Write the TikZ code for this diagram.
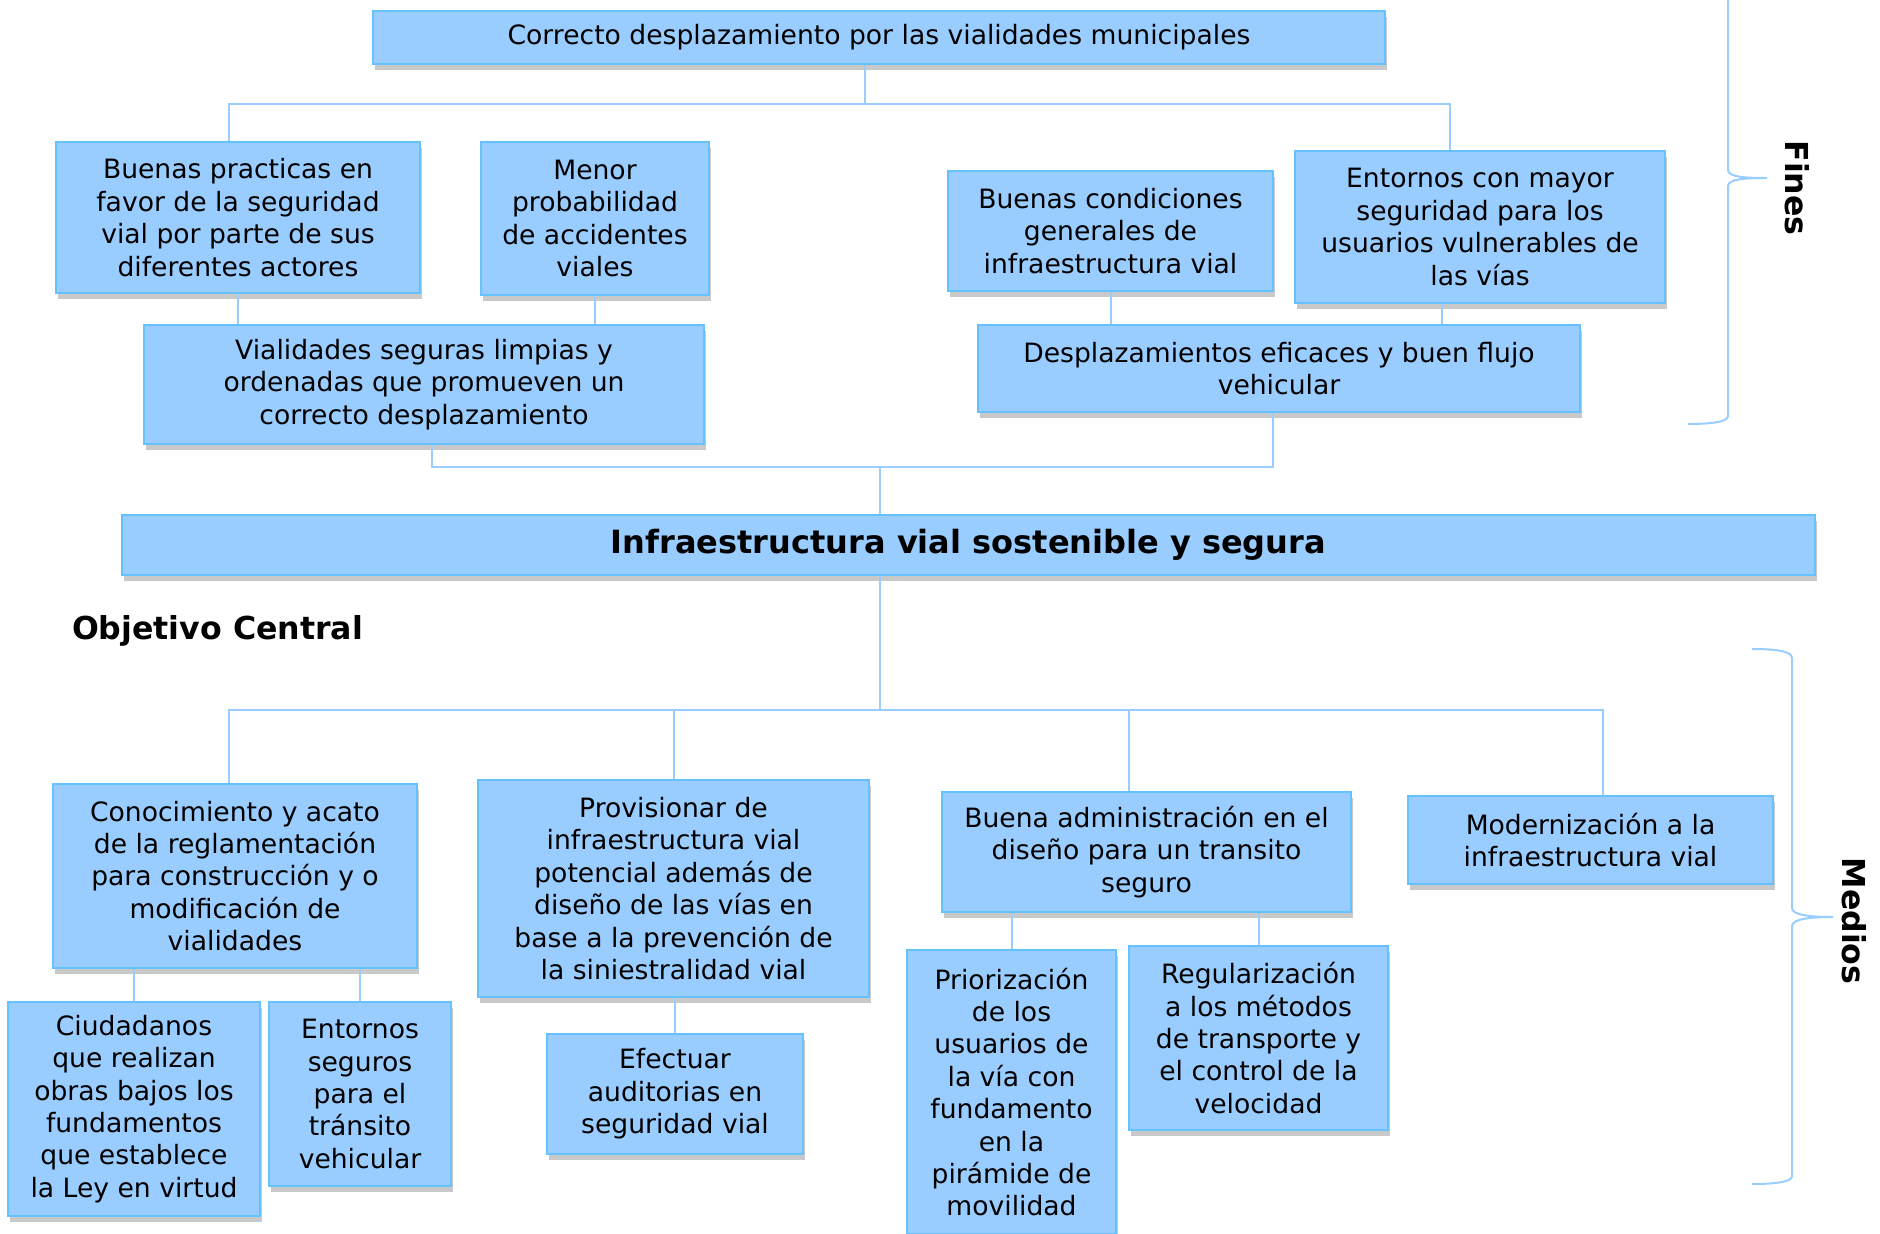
\documentclass[tikz,border=0pt]{standalone}
\usepackage{fontspec}
\setmainfont{DejaVu Sans}
\usetikzlibrary{shadows}

\definecolor{azulcaja}{HTML}{99CCFF}
\definecolor{bordecaja}{HTML}{66C2FF}
\definecolor{azullinea}{HTML}{99CCFF}

\tikzset{
  caja/.style={draw=bordecaja, line width=1pt, fill=azulcaja, align=center, inner sep=0pt,
    font=\fontsize{13.3}{16.2}\selectfont,
    drop shadow={shadow xshift=1pt, shadow yshift=-3pt, opacity=0.3, fill=black!70}},
  linea/.style={draw=azullinea, line width=1pt},
  llave/.style={draw=azullinea, line width=1pt},
  etiqueta/.style={font=\bfseries\fontsize{15.8}{18}\selectfont},
}

\begin{document}
\begin{tikzpicture}[x=0.5pt,y=-0.5pt]
\useasboundingbox (0,0) rectangle (1880,1233);
% fines
\node[caja, minimum width=506pt, minimum height=26.5pt] (fin0) at (879,37.5) {Correcto desplazamiento por las vialidades municipales};
\node[caja, minimum width=182pt, minimum height=75.5pt] (fin1) at (238,217.5) {Buenas practicas en\\favor de la seguridad\\vial por parte de sus\\diferentes actores};
\node[caja, minimum width=114pt, minimum height=76.5pt] (fin2) at (595,218.5) {Menor\\probabilidad\\de accidentes\\viales};
\node[caja, minimum width=162.5pt, minimum height=60pt] (fin3) at (1110.5,231) {Buenas condiciones\\generales de\\infraestructura vial};
\node[caja, minimum width=185pt, minimum height=76pt] (fin4) at (1480,227) {Entornos con mayor\\seguridad para los\\usuarios vulnerables de\\las vías};
\node[caja, minimum width=280pt, minimum height=59.5pt] (fin5) at (424,384.5) {Vialidades seguras limpias y\\ordenadas que promueven un\\correcto desplazamiento};
\node[caja, minimum width=301pt, minimum height=43.5pt] (fin6) at (1279,368.5) {Desplazamientos eficaces y buen flujo\\vehicular};
% objetivo central
\node[caja, minimum width=846.5pt, minimum height=30pt, font=\bfseries\fontsize{16}{18}\selectfont] (obj) at (968.5,545) {Infraestructura vial sostenible y segura};
\node[etiqueta] (objtxt) at (217.5,631) {Objetivo Central};
% medios
\node[caja, minimum width=182pt, minimum height=92pt] (med1) at (235,876) {Conocimiento y acato\\de la reglamentación\\para construcción y o\\modificación de\\vialidades};
\node[caja, minimum width=195.5pt, minimum height=108.5pt] (med2) at (673.5,888.5) {Provisionar de\\infraestructura vial\\potencial además de\\diseño de las vías en\\base a la prevención de\\la siniestralidad vial};
\node[caja, minimum width=204.5pt, minimum height=60pt] (med3) at (1146.5,852) {Buena administración en el\\diseño para un transito\\seguro};
\node[caja, minimum width=182.5pt, minimum height=44pt] (med4) at (1590.5,840) {Modernización a la\\infraestructura vial};
\node[caja, minimum width=126pt, minimum height=107pt] (med5) at (134,1109) {Ciudadanos\\que realizan\\obras bajos los\\fundamentos\\que establece\\la Ley en virtud};
\node[caja, minimum width=91pt, minimum height=92pt] (med6) at (360,1094) {Entornos\\seguros\\para el\\tránsito\\vehicular};
\node[caja, minimum width=128pt, minimum height=60pt] (med7) at (675,1094) {Efectuar\\auditorias en\\seguridad vial};
\node[caja, minimum width=104.5pt, minimum height=142pt] (med8) at (1011.5,1092) {Priorización\\de los\\usuarios de\\la vía con\\fundamento\\en la\\pirámide de\\movilidad};
\node[caja, minimum width=129.5pt, minimum height=92pt] (med9) at (1258.5,1038) {Regularización\\a los métodos\\de transporte y\\el control de la\\velocidad};

% conectores
\coordinate (cA) at (865,104);
\coordinate (cB) at (880,467);
\coordinate (cC) at (880,710);
\draw[linea] (fin0.south -| cA) -- (cA);
\draw[linea] ([xshift=-4.5pt]fin1.north) |- (cA) -| ([xshift=-15pt]fin4.north);
\draw[linea] (fin1.south) -- (fin1.south |- fin5.north);
\draw[linea] (fin2.south) -- (fin2.south |- fin5.north);
\draw[linea] (fin3.south) -- (fin3.south |- fin6.north);
\draw[linea] ([xshift=-19pt]fin4.south) -- ([xshift=-19pt]fin4.south |- fin6.north);
\draw[linea] ([xshift=4pt]fin5.south) |- (cB) -| ([xshift=-3pt]fin6.south);
\draw[linea] (cB) -- (obj.north -| cB);
\draw[linea] (obj.south -| cB) -- (cC);
\draw[linea] ([xshift=-3pt]med1.north) |- (cC) -| ([xshift=6pt]med4.north);
\draw[linea] (med2.north) -- (med2.north |- cC);
\draw[linea] ([xshift=-8.75pt]med3.north) -- ([xshift=-8.75pt]med3.north |- cC);
\draw[linea] (med5.north) -- (med5.north |- med1.south);
\draw[linea] (med6.north) -- (med6.north |- med1.south);
\draw[linea] (med7.north) -- (med7.north |- med2.south);
\draw[linea] (med8.north) -- (med8.north |- med3.south);
\draw[linea] (med9.north) -- (med9.north |- med3.south);

% llaves
\draw[llave] (1728,-10) -- (1728,170) .. controls (1728,177) and (1745,178) .. (1767,178)
  .. controls (1745,178) and (1728,179) .. (1728,186) -- (1728,416)
  .. controls (1728,422) and (1710,424) .. (1688,424);
\node[etiqueta, rotate=-90] (fines) at (1797,188) {Fines};
\draw[llave] (1752,649) .. controls (1775,649) and (1792,651) .. (1792,658) -- (1792,908)
  .. controls (1792,915) and (1810,917) .. (1833,917)
  .. controls (1810,917) and (1792,919) .. (1792,926) -- (1792,1176)
  .. controls (1792,1182) and (1775,1184) .. (1752,1184);
\node[etiqueta, rotate=-90] (medios) at (1854,921) {Medios};
\end{tikzpicture}
\end{document}
